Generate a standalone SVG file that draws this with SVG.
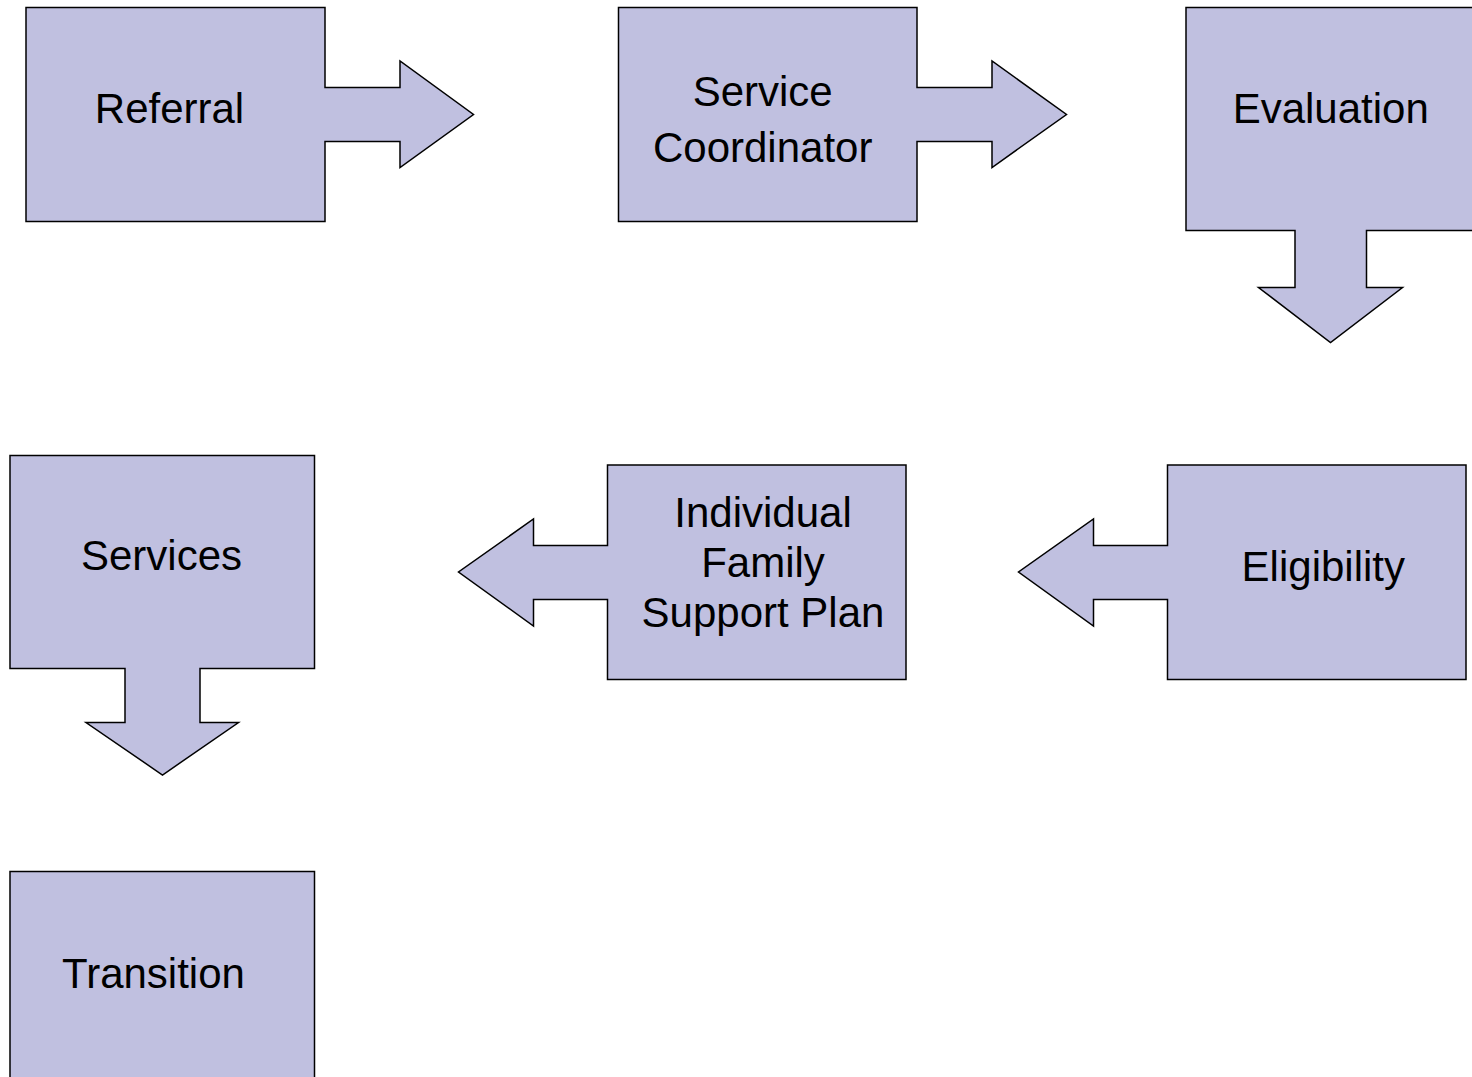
<svg xmlns="http://www.w3.org/2000/svg" width="1472" height="1077" viewBox="0 0 1472 1077">
<style>
.shape{fill:#C0C0E0;stroke:#000;stroke-width:1.5;stroke-linejoin:miter}
.lbl{font-family:"Liberation Sans",Arial,sans-serif;font-size:42px;fill:#000;text-anchor:middle}
</style>
<rect width="1472" height="1077" fill="#fff"/>
<g id="connectors"></g>
<g id="referral">
<polygon class="shape" points="26,7.5 325,7.5 325,87.5 400,87.5 400,61 473.5,114.5 400,167.5 400,141.5 325,141.5 325,221.5 26,221.5"/>
<text class="lbl" x="169.5" y="123.3">Referral</text>
</g>
<g id="service-coordinator">
<polygon class="shape" points="618.5,7.5 917,7.5 917,87.5 992,87.5 992,61 1066.5,114.5 992,167.5 992,141.5 917,141.5 917,221.5 618.5,221.5"/>
<text class="lbl" x="762.7" y="105.7">Service</text>
<text class="lbl" x="762.7" y="161.7">Coordinator</text>
</g>
<g id="evaluation">
<polygon class="shape" points="1186,7.5 1476,7.5 1476,230.5 1366.5,230.5 1366.5,287.5 1402.5,287.5 1330.5,342.5 1258.5,287.5 1295,287.5 1295,230.5 1186,230.5"/>
<text class="lbl" x="1330.7" y="122.7">Evaluation</text>
</g>
<g id="eligibility">
<polygon class="shape" points="1167.5,465 1466,465 1466,679.5 1167.5,679.5 1167.5,599.5 1093.5,599.5 1093.5,626 1018.5,572 1093.5,519 1093.5,545.5 1167.5,545.5"/>
<text class="lbl" x="1323.3" y="580.7">Eligibility</text>
</g>
<g id="ifsp">
<polygon class="shape" points="607.5,465 906,465 906,679.5 607.5,679.5 607.5,599.5 533.5,599.5 533.5,626 458.5,572 533.5,519 533.5,545.5 607.5,545.5"/>
<text class="lbl" x="763" y="527.3">Individual</text>
<text class="lbl" x="763" y="577.3">Family</text>
<text class="lbl" x="763" y="626.7">Support Plan</text>
</g>
<g id="services">
<polygon class="shape" points="10,455.5 314.5,455.5 314.5,668.5 200,668.5 200,722.5 238.5,722.5 162.5,775 86,722.5 125,722.5 125,668.5 10,668.5"/>
<text class="lbl" x="161.5" y="570">Services</text>
</g>
<g id="transition">
<rect class="shape" x="10" y="871.5" width="304.5" height="215"/>
<text class="lbl" x="153.5" y="987.7">Transition</text>
</g>
</svg>
